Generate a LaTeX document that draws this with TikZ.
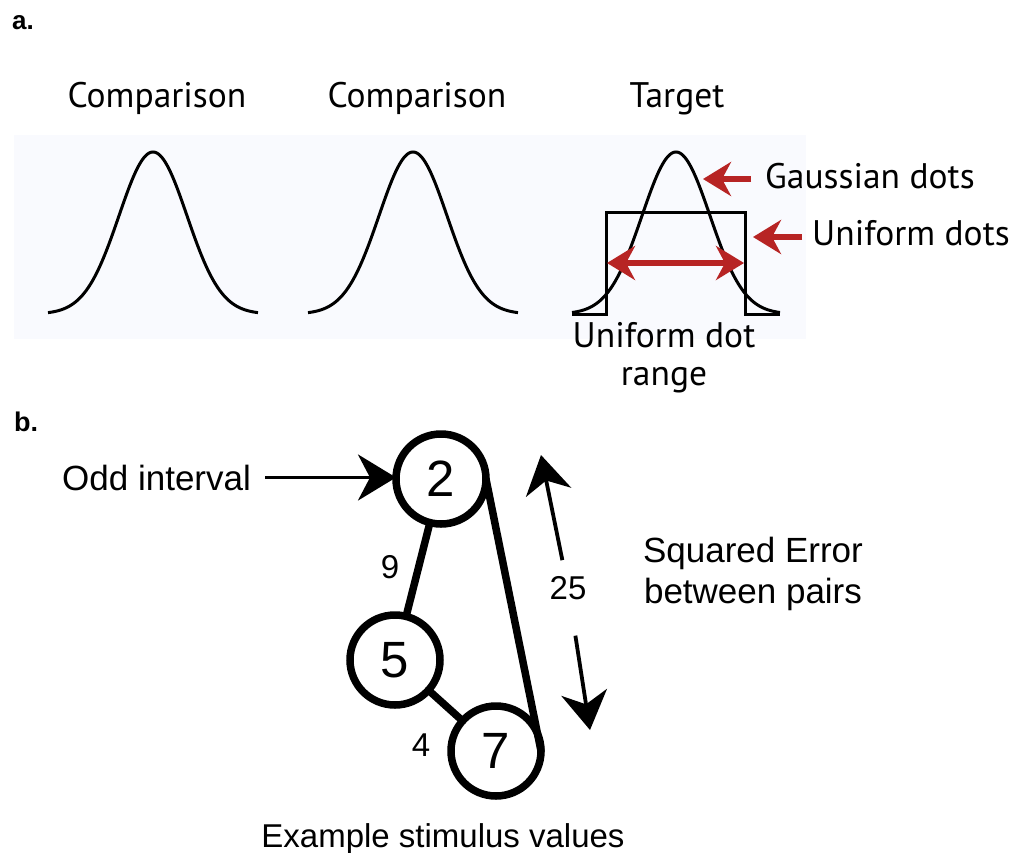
\documentclass[tikz,border=0pt]{standalone}
\usepackage{fontspec}
\setmainfont{Liberation Sans}
\newfontfamily\myr{PT Sans}
\usetikzlibrary{arrows.meta}
\definecolor{bgc}{RGB}{249,250,254}
\definecolor{darkred}{RGB}{183,36,36}
\begin{document}
\begin{tikzpicture}[x=1pt,y=-1pt,
  lbla/.style={font=\myr\fontsize{35.5}{38}\selectfont, inner sep=0pt},
  lblb/.style={font=\fontsize{35}{41}\selectfont, inner sep=0pt},
  numlbl/.style={font=\fontsize{33}{33}\selectfont, inner sep=0pt},
  panel/.style={font=\bfseries\fontsize{26}{26}\selectfont, inner sep=0pt, anchor=base west},
  curve/.style={line width=3pt, black},
  redarr/.style={draw=darkred, line width=6.5pt, -{Stealth[length=28pt,width=34pt,inset=9pt]}},
  reddbl/.style={draw=darkred, line width=6.5pt, {Stealth[length=28pt,width=34pt,inset=9pt]}-{Stealth[length=28pt,width=34pt,inset=9pt]}},
  blkarr/.style={line width=3.8pt, -{Stealth[length=38pt,width=46pt,inset=12pt]}},
  numc/.style={circle, draw, line width=7.5pt, minimum size=90pt, inner sep=0pt, outer sep=0pt, font=\fontsize{51}{51}\selectfont},
  link/.style={line width=7.5pt, line cap=round}
]
\useasboundingbox (0,0) rectangle (1009,852);
\fill[white] (0,0) rectangle (1009,852);
% panel a background
\fill[bgc] (14,135) rectangle (806,339);

\node[panel] (pa) at (12,29) {a.};
\node[panel, font=\bfseries\fontsize{27}{27}\selectfont] (pb) at (14,431) {b.};

% labels panel a
\node[lbla, anchor=base] (cmp1) at (157,107) {Comparison};
\node[lbla, anchor=base] (cmp2) at (417,107) {Comparison};
\node[lbla, anchor=base] (tgt) at (677,107) {Target};
\node[lbla, anchor=base west] (gd) at (765,188) {Gaussian dots};
\node[lbla, anchor=base west] (ud) at (812,245) {Uniform dots};
\node[lbla, align=center] (udr) at (664,358) {Uniform dot\\range};

% gaussians
\draw[curve] plot[domain=-105:105,samples=121,smooth] ({153+\x},{314-162*exp(-0.5*(\x/34)^2)});
\draw[curve] plot[domain=-105:105,samples=121,smooth] ({413+\x},{314-162*exp(-0.5*(\x/34)^2)});
\draw[curve] plot[domain=-104:104,samples=121,smooth] ({676+\x},{314-162*exp(-0.5*(\x/34)^2)});
% uniform
\draw[curve, line join=miter] (572,314) -- (606,314) -- (606,212) -- (745,212) -- (745,314) -- (780,314);

% red arrows
\coordinate (gtip) at (703,179);
\coordinate (utip) at (753,237);
\coordinate (rl) at (607,263);
\coordinate (rr) at (744,263);
\draw[redarr, shorten <=14pt] (gtip -| gd.west) -- (gtip);
\draw[redarr, shorten <=10pt] (utip -| ud.west) -- (utip);
\draw[reddbl] (rl) -- (rr);

% panel b
\node[numc] (c2) at (441,479) {2};
\node[numc] (c5) at (395,660) {5};
\node[numc] (c7) at (496,751) {7};
\draw[link] (c2) -- (c5);
\draw[link] (c5) -- (c7);
\draw[link] (c2.east) -- (c7.east);

\node[numlbl] (n9) at (390,567) {9};
\node[numlbl] (n4) at (421,745) {4};
\node[numlbl, inner ysep=16pt] (n25) at (568,588) {25};

\node[lblb, anchor=base west] (odd) at (62,490) {Odd interval};
\draw[blkarr, shorten <=14pt] (odd.east) -- (odd.east -| c2.west);

\coordinate (up) at (541,455);
\coordinate (dn) at (590,730);
\draw[blkarr] (n25) -- (up);
\draw[blkarr, shorten <=20pt] (n25) -- (dn);

\node[lblb, align=center] (sq) at (753,574) {Squared Error\\between pairs};
\node[lblb, font=\fontsize{33}{33}\selectfont, anchor=base] (ex) at (443,847) {Example stimulus values};
\end{tikzpicture}
\end{document}
